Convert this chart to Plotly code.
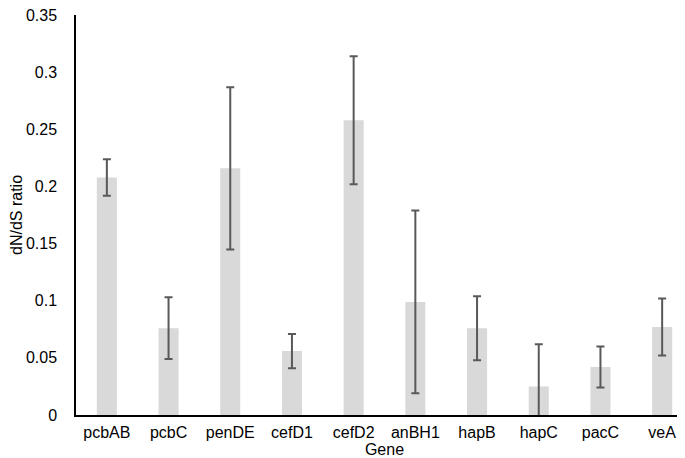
import plotly.graph_objects as go

genes = ["pcbAB", "pcbC", "penDE", "cefD1", "cefD2", "anBH1", "hapB", "hapC", "pacC", "veA"]
ratios = [0.208, 0.076, 0.216, 0.056, 0.258, 0.099, 0.076, 0.025, 0.042, 0.077]
errors = [0.016, 0.027, 0.071, 0.015, 0.056, 0.080, 0.028, 0.037, 0.018, 0.025]
y_ticks = [0, 0.05, 0.1, 0.15, 0.2, 0.25, 0.3, 0.35]
y_tick_text = ["0", "0.05", "0.1", "0.15", "0.2", "0.25", "0.3", "0.35"]

fig = go.Figure(go.Bar(
    x=genes, y=ratios,
    marker=dict(color="#d9d9d9", line=dict(width=0)),
    error_y=dict(type="data", array=errors, visible=True, color="#595959", thickness=2, width=4),
))

font = "Liberation Sans, Arial, sans-serif"
fig.update_layout(
    width=685, height=458,
    margin=dict(l=68, r=0, t=7, b=51),
    paper_bgcolor="white", plot_bgcolor="white",
    bargap=0.675,
    showlegend=False,
    font=dict(family=font, size=16, color="#000000"),
    xaxis=dict(
        showline=True, linecolor="#000000", linewidth=1.5,
        showgrid=False, ticks="", ticklen=0, ticklabelstandoff=2,
        tickfont=dict(size=16),
        title=dict(text="Gene", font=dict(size=16), standoff=0),
    ),
    yaxis=dict(
        range=[0, 0.3502], tickvals=y_ticks, ticktext=y_tick_text,
        showline=True, linecolor="#000000", linewidth=1.5,
        showgrid=False, zeroline=False, ticks="", ticklen=0, ticklabelstandoff=14,
        ticklabeloverflow="allow",
        tickfont=dict(size=16),
        title=dict(text="dN/dS ratio", font=dict(size=16), standoff=3),
    ),
)
fig.write_html("out.html")
